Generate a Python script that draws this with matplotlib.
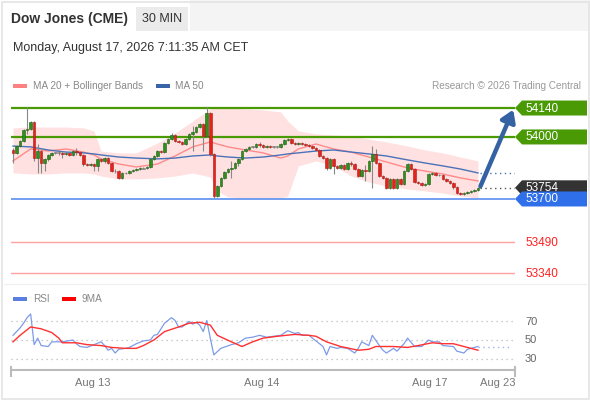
import matplotlib
matplotlib.use("Agg")
import matplotlib.pyplot as plt
import numpy as np
from matplotlib.patches import Polygon, Rectangle

plt.rcParams['font.family'] = ['Liberation Sans', 'DejaVu Sans']

# ---- data (30 min candles) ----
first_open = 53937
closes = [53923, 53956, 53981, 54034, 54039, 54073, 53898, 53932, 53874, 53894, 53913, 53923, 53923,
          53923, 53918, 53923, 53913, 53932, 53927, 53913, 53869, 53864, 53869, 53860, 53894, 53884,
          53898, 53874, 53835, 53835, 53802, 53826, 53826,
          53835, 53840, 53845, 53848, 53850, 53855, 53894, 53908, 53932, 53927, 53971, 53990, 54010,
          53981, 53976, 53966, 53990, 54015, 54024, 54048, 54063, 54005, 54116, 53918, 53714, 53763,
          53802, 53831, 53845, 53850, 53874, 53894, 53932,
          53942, 53952, 53952, 53966, 53961, 53952, 53956, 53952, 53952, 53952, 53966, 53985, 53990,
          53971, 53966, 53971, 53966, 53961, 53956, 53947, 53937, 53908, 53898, 53850, 53894, 53860,
          53850, 53864, 53845, 53874, 53869, 53845, 53811, 53840, 53835,
          53884, 53918, 53874, 53811, 53802, 53753, 53797, 53753, 53797, 53772, 53835, 53869, 53845,
          53782, 53777, 53768, 53772, 53821, 53826, 53816, 53816, 53797, 53787, 53777, 53758, 53729,
          53724, 53729, 53734, 53739, 53743, 53754]
wick_up = [10, 5, 5, 5, 106, 4, 4, 34, 5, 5, 5, 5, 5, 10, 10, 5, 5, 5, 15, 5, 5, 5, 5, 5, 4, 5, 5,
           5, 5, 10, 5, 5, 5,
           5, 5, 5, 5, 5, 5, 5, 5, 5, 5, 5, 5, 10, 5, 5, 5, 5, 5, 29, 5, 5, 5, 29, 5, 5, 5, 5, 5,
           5, 34, 5, 5, 5,
           5, 5, 5, 5, 10, 5, 5, 5, 5, 5, 5, 5, 5, 5, 5, 5, 5, 5, 5, 5, 5, 5, 5, 5, 5, 5, 5, 5, 5,
           5, 10, 5, 5, 5, 24,
           5, 38, 24, 5, 5, 5, 5, 5, 5, 5, 5, 5, 5, 5, 5, 5, 5, 5, 5, 5, 5, 5, 5, 5, 5, 5, 5, 5, 5,
           5, 5, 5]
wick_dn = [49, 5, 5, 5, 19, 5, 14, 72, 48, 39, 10, 5, 5, 10, 20, 5, 5, 5, 15, 5, 10, 5, 5, 25, 25,
           5, 10, 5, 5, 10, 5, 5, 5,
           5, 5, 5, 5, 5, 5, 5, 5, 5, 5, 5, 5, 5, 5, 5, 5, 5, 5, 83, 5, 5, 73, 5, 10, 9, 5, 5, 5,
           5, 43, 5, 15, 5,
           5, 5, 5, 5, 10, 5, 5, 5, 5, 5, 5, 5, 5, 5, 5, 5, 5, 5, 5, 5, 5, 5, 5, 10, 5, 39, 5, 5,
           5, 5, 10, 5, 5, 5, 48,
           5, 131, 5, 5, 5, 5, 5, 5, 5, 5, 5, 5, 5, 5, 5, 5, 5, 5, 5, 5, 5, 5, 5, 5, 10, 5, 5, 5,
           5, 5, 5, 5]

# moving averages / bollinger bands, read at these bars
ma_bars = [0, 5, 10, 15, 20, 23, 25, 30, 35, 41, 46, 51, 56, 58, 61, 66, 71, 76, 78, 81, 86, 91,
           96, 101, 106, 112, 117, 122, 127, 132]
ma20 = [53884, 53942, 53932, 53942, 53927, 53913, 53894, 53869, 53855, 53869, 53908, 53952, 53976,
        53966, 53952, 53937, 53923, 53898, 53908, 53942, 53966, 53942, 53927, 53903, 53879, 53850,
        53835, 53821, 53802, 53787]
ma50 = [53956, 53952, 53937, 53927, 53923, 53918, 53913, 53903, 53898, 53894, 53898, 53908, 53913,
        53908, 53903, 53898, 53903, 53913, 53918, 53923, 53932, 53937, 53927, 53918, 53908, 53889,
        53874, 53860, 53845, 53826]
bb_upper = [54044, 54048, 54048, 54048, 54044, 54029, 53932, 53923, 53923, 53971, 54019, 54077,
            54136, 54140, 54140, 54136, 54131, 54121, 54077, 54029, 54015, 54010, 54005, 53990,
            53976, 53956, 53937, 53923, 53903, 53884]
bb_lower = [53826, 53821, 53821, 53826, 53826, 53821, 53811, 53797, 53797, 53802, 53811, 53826,
            53806, 53739, 53710, 53705, 53705, 53705, 53714, 53860, 53884, 53860, 53811, 53782,
            53763, 53748, 53739, 53729, 53714, 53705]

rsi_bars = [0, 2, 3, 4, 5, 6, 7, 8, 10, 11, 14, 17, 18, 19, 21, 25, 26, 27, 28, 29, 30, 32, 33,
            35, 37, 39, 40, 41, 43, 45, 46, 47, 48, 50, 51, 52, 53, 54, 55, 56, 57, 59, 62, 64, 66,
            68, 70, 72, 74, 76, 78, 80, 81, 82, 84, 85, 87, 88, 89, 90, 92, 93, 95, 97, 98, 99,
            101, 102, 104, 105, 106, 108, 109, 111, 112, 114, 116, 118, 119, 121, 122, 125, 126,
            128, 129, 130, 132]
rsi_vals = [55, 63, 68, 74, 78, 45, 52, 44, 43, 48, 48, 50, 46, 43, 42, 48, 44, 39, 41, 36, 40, 41,
            42, 46, 49, 50, 55, 56, 68, 74, 71, 64, 64, 70, 67, 69, 66, 59, 71, 52, 34, 41, 45, 47,
            52, 53, 55, 53, 54, 55, 60, 57, 58, 55, 55, 52, 46, 43, 34, 43, 41, 42, 41, 36, 41, 48,
            44, 55, 44, 39, 36, 41, 38, 46, 52, 43, 43, 50, 48, 48, 44, 43, 38, 36, 40, 41, 43]
rsi_ma_bars = [0, 2, 5, 8, 11, 13, 14, 18, 21, 25, 28, 32, 35, 37, 40, 43, 47, 50, 53, 56, 58, 62,
               65, 68, 71, 75, 80, 84, 86, 89, 93, 98, 101, 103, 108, 112, 115, 119, 122, 125,
               129, 132]
rsi_ma_vals = [48, 55, 64, 62, 58, 52, 47, 47, 45, 44, 42, 41, 41, 44, 50, 59, 64, 68, 69, 66, 55,
               48, 43, 48, 52, 54, 56, 55, 54, 48, 43, 39, 40, 43, 43, 42, 44, 47, 46, 46, 42, 39]

resistances = [54140, 54000]
pivot = 53700
supports = [53490, 53340]
last_price = 53754
rsi_levels = [70, 50, 30]
tick_labels = ['Aug 13', 'Aug 14', 'Aug 17', 'Aug 23']
tick_bars = [22.7, 70.7, 118.4, 137.7]

GREEN = '#4a9a06'
BLUE = '#2f6fe9'

fig = plt.figure(figsize=(5.9, 4.0), dpi=100)
W, H = 590, 400

# background / header layer in pixel coordinates
bg = fig.add_axes([0, 0, 1, 1], zorder=0)
bg.set_xlim(0, W)
bg.set_ylim(H, 0)
bg.axis('off')
bg.add_patch(Rectangle((190, 0), 400, 31, color='#f4f4f4', lw=0))
bg.add_patch(Rectangle((1.5, 1.5), W - 3, H - 3, fill=False, ec='#e4e4e4', lw=1.2))
bg.add_patch(Rectangle((136, 7), 52, 24, color='#ebebeb', lw=0))
bg.text(11, 19, 'Dow Jones (CME)', fontsize=10, fontweight='bold', color='#333333', va='center')
bg.text(162, 19, '30 MIN', fontsize=9, color='#333333', va='center', ha='center')
bg.text(13, 48, 'Monday, August 17, 2026 7:11:35 AM CET', fontsize=9, color='#333333', va='center')
bg.add_patch(Rectangle((13, 84), 14, 4, color='#ff8080', lw=0))
bg.text(33, 86, 'MA 20 + Bollinger Bands', fontsize=7.2, color='#888888', va='center')
bg.add_patch(Rectangle((156, 84), 14, 4, color='#3a64a8', lw=0))
bg.text(175, 86, 'MA 50', fontsize=7.2, color='#888888', va='center')
bg.text(581, 86, 'Research \u00a9 2026 Trading Central', fontsize=7.2, color='#999999',
        va='center', ha='right')
bg.plot([4, 586], [284, 284], color='#f0f0f0', lw=1)
bg.add_patch(Rectangle((13, 297), 14, 4, color='#5b7fe0', lw=0))
bg.text(33, 299, 'RSI', fontsize=7.2, color='#888888', va='center')
bg.add_patch(Rectangle((62, 297), 14, 4, color='#ff0000', lw=0))
bg.text(82, 299, '9MA', fontsize=7.2, color='#888888', va='center')
bg.plot([11, 515], [370, 370], color='#bbbbbb', lw=1.5)
bg.plot([11, 11], [367, 376], color='#bbbbbb', lw=1.5)
bg.plot([515, 515], [367, 376], color='#bbbbbb', lw=1.5)

xl = (-0.57, 142.5)

# ---- price panel ----
ax = fig.add_axes([11 / W, (H - 286) / H, 504 / W, 185 / H], zorder=1)
ax.patch.set_visible(False)
ax.set_xlim(*xl)
ax.set_ylim(53279, 54174)
ax.axis('off')

ax.fill_between(ma_bars, bb_lower, bb_upper, color='#ffe1e1', lw=0)

for r in resistances:
    ax.axhline(r, color=GREEN, lw=1.6)
ax.axhline(pivot, color='#5b8def', lw=1.2)
for s in supports:
    ax.axhline(s, color='#ffa0a0', lw=1.0)

n = len(closes)
idx = np.arange(n)
c = np.array(closes, dtype=float)
o = np.array([first_open] + closes[:-1], dtype=float)
hi = np.maximum(o, c) + np.array(wick_up)
lo = np.minimum(o, c) - np.array(wick_dn)
diff = c - o
cols = np.where(diff > 2, '#2f8f1f', np.where(diff < -2, '#e3241c', '#8c8c8c'))
edges = np.where(diff > 2, '#1d5e12', np.where(diff < -2, '#b01510', '#777777'))
body_h = np.maximum(np.abs(diff), 4)
body_b = np.minimum(o, c) - np.where(np.abs(diff) < 4, (4 - np.abs(diff)) / 2, 0)

ax.vlines(idx, lo, hi, color='#888888', lw=0.8, zorder=3)
ax.bar(idx, body_h, bottom=body_b, width=0.72, color=cols, edgecolor=edges, lw=0.4, zorder=4)

ax.plot(ma_bars, ma20, color='#ff8a8a', lw=1.0, zorder=2)
ax.plot(ma_bars, ma50, color='#4a72b8', lw=1.0, zorder=2)

ax.plot([n - 0.5, xl[1]], [ma50[-1], ma50[-1]], color='#4a72b8', lw=1, ls=(0, (1, 2.5)))
ax.plot([n - 0.5, xl[1]], [last_price, last_price], color='#555555', lw=1, ls=(0, (1, 2.5)))

ax.annotate('', xy=(142.0, 54132), xytext=(n - 0.3, 53762),
            arrowprops=dict(arrowstyle='-|>,head_length=0.7,head_width=0.45', lw=3.2,
                            color='#3462a3', shrinkA=0, shrinkB=0),
            annotation_clip=False, zorder=6)

# ---- RSI panel ----
rx = fig.add_axes([11 / W, (H - 368) / H, 504 / W, 63 / H], zorder=1)
rx.patch.set_visible(False)
rx.set_xlim(*xl)
rx.set_ylim(19.9, 87.6)
for v in rsi_levels:
    rx.axhline(v, color='#bbbbbb', lw=0.9, ls=(0, (1, 3)))
rx.plot(rsi_bars, rsi_vals, color='#7d9be8', lw=0.9)
rx.plot(rsi_ma_bars, rsi_ma_vals, color='#ff3030', lw=1.0)
rx.plot([rsi_bars[-1], 141.5], [rsi_vals[-1], rsi_vals[-1]], color='#9fb4ee', lw=1,
        ls=(0, (1, 2.5)))
for s in rx.spines.values():
    s.set_visible(False)
rx.set_yticks([])
rx.set_xticks(tick_bars, tick_labels)
rx.tick_params(axis='x', length=0, pad=7, labelsize=8, labelcolor='#777777')

# ---- right side tags ----
fg = fig.add_axes([0, 0, 1, 1], zorder=5)
fg.set_xlim(0, W)
fg.set_ylim(H, 0)
fg.axis('off')


def ypix(axis, val):
    return H - axis.transData.transform((0, val))[1]


def tag(price, color):
    y = ypix(ax, price)
    fg.add_patch(Polygon([(515, y), (522, y - 7.5), (587, y - 7.5), (587, y + 7.5), (522, y + 7.5)],
                         closed=True, color=color, lw=0))
    fg.text(525, y + 0.5, str(price), fontsize=8.5, color='white', va='center')


for r in resistances:
    tag(r, GREEN)
tag(last_price, '#333333')
tag(pivot, BLUE)
for s in supports:
    fg.text(525, ypix(ax, s) + 0.5, str(s), fontsize=8.5, color='#ff2020', va='center')
for v in rsi_levels:
    fg.text(525, ypix(rx, v) + 0.5, str(v), fontsize=8, color='#666666', va='center')

fig.savefig('out.png', dpi=100)
